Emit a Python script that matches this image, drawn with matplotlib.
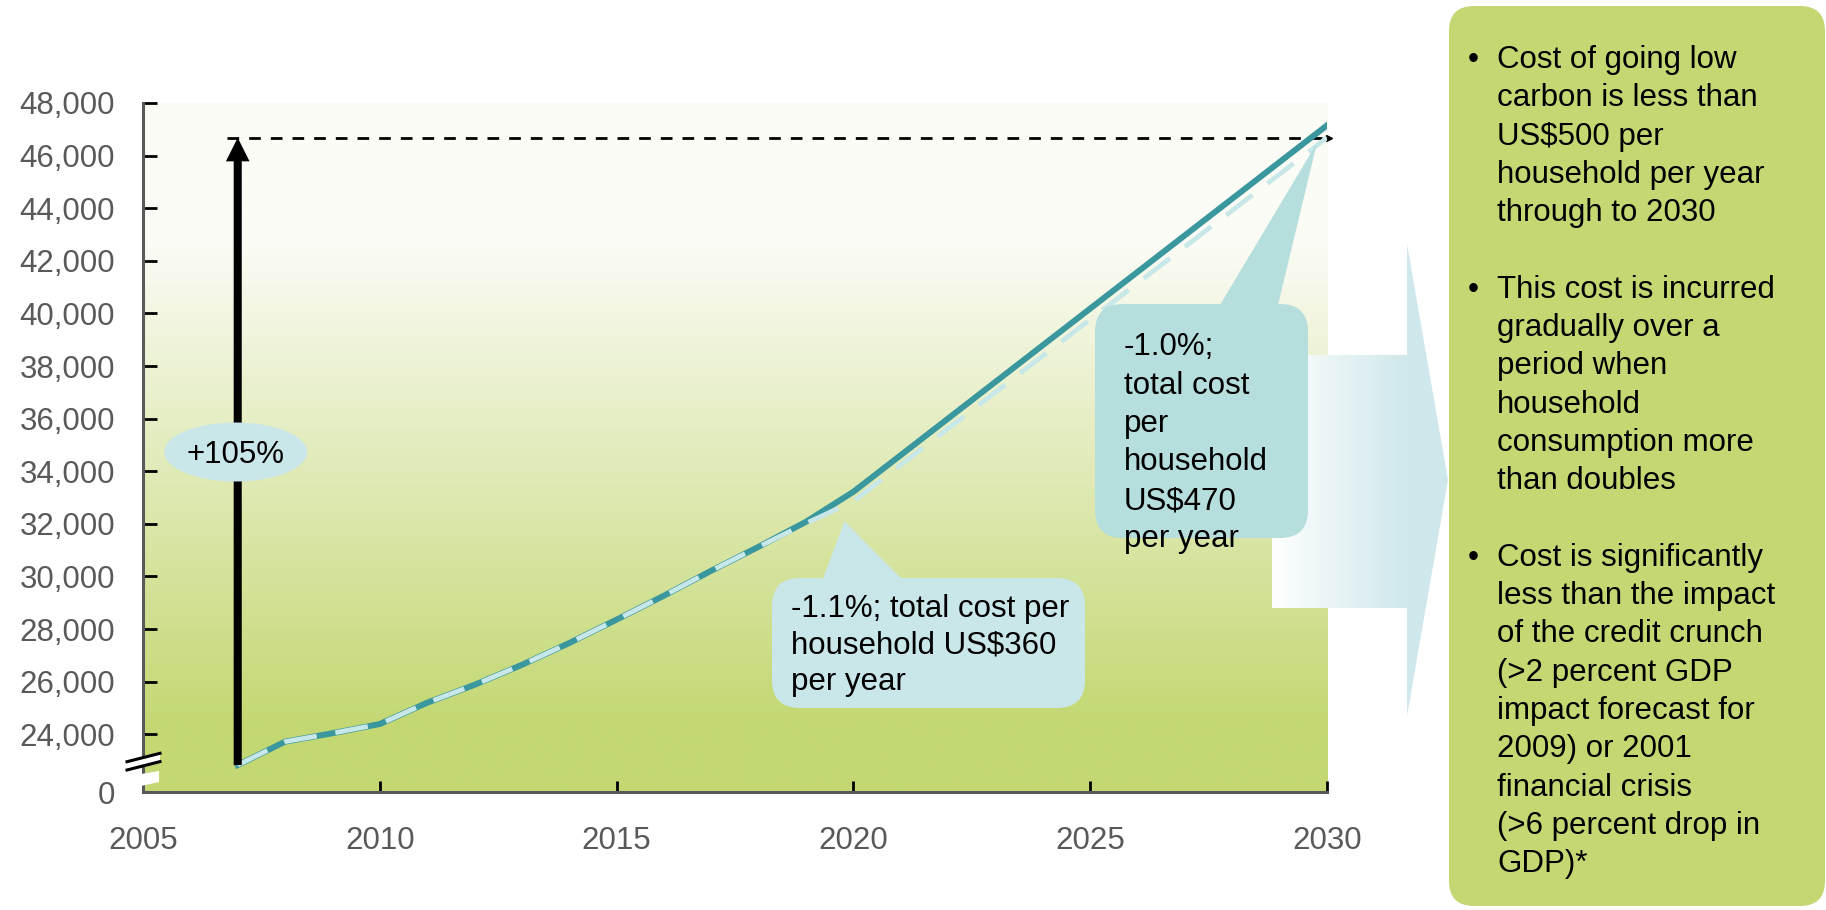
import numpy as np
import matplotlib.pyplot as plt
from matplotlib.colors import to_rgb
from matplotlib.patches import ArrowStyle, Ellipse, FancyBboxPatch, Polygon

plt.rcParams['font.family'] = ['Liberation Sans', 'DejaVu Sans']

# household consumption, US$ per household per year
years = [2007, 2008, 2009, 2010, 2011, 2012, 2013, 2014, 2015, 2016, 2017, 2018, 2019, 2020, 2030]
business_as_usual = [22830, 23720, 24040, 24390, 25200, 25880, 26640, 27470, 28360,
                     29270, 30220, 31130, 32080, 33220, 47150]
low_carbon = [22830, 23720, 24040, 24390, 25200, 25880, 26640, 27470, 28360,
              29270, 30220, 31130, 32020, 32860, 46680]

x_ticks = [2005, 2010, 2015, 2020, 2025, 2030]
y_ticks = [24000, 26000, 28000, 30000, 32000, 34000, 36000, 38000, 40000,
           42000, 44000, 46000, 48000]
y_floor = 21806  # bottom of the broken axis, shown as 0

growth_label = '+105%'
note_2020 = ['-1.1%; total cost per', 'household US$360', 'per year']
note_2030 = ['-1.0%;', 'total cost', 'per', 'household', 'US$470', 'per year']
bullets = [
    ['Cost of going low', 'carbon is less than', 'US$500 per',
     'household per year', 'through to 2030'],
    ['This cost is incurred', 'gradually over a', 'period when',
     'household', 'consumption more', 'than doubles'],
    ['Cost is significantly', 'less than the impact', 'of the credit crunch',
     '(>2 percent GDP', 'impact forecast for', '2009) or 2001',
     'financial crisis', '(>6 percent drop in', 'GDP)*'],
]

TEAL = '#3a979d'
PALE = '#c8e7e9'
GREEN = '#c3d873'
GREY = '#595959'
FS = 22.5

W, H = 1826, 910
fig = plt.figure(figsize=(W / 100, H / 100), dpi=100)
fig.patch.set_facecolor('white')
ax = fig.add_axes([143 / W, 1 - 792 / H, 1184 / W, 689 / H], zorder=1)

# vertical wash from near-white to green behind the plot
s = np.linspace(0, 1, 400)[:, None]
t = np.clip((s - 0.2) / 0.7, 0, 1)
bg = (1 - t) * np.array(to_rgb('#fbfcf6')) + t * np.array(to_rgb(GREEN))
ax.imshow(bg[:, None, :], extent=(0, 1, 0, 1), transform=ax.transAxes,
          aspect='auto', zorder=0)

ax.plot(years, business_as_usual, color=TEAL, lw=4.3, zorder=3)
ax.plot(years, low_carbon, color=PALE, lw=3.4, dashes=(7, 4), zorder=4)

# growth arrow and 2030 level
peak = low_carbon[-1]
ax.plot([years[0] - 0.23, years[-1]], [peak, peak], color='black', lw=2,
        dashes=(4.2, 3.6), zorder=2, clip_on=False)
ax.plot(years[-1] + 0.05, peak, marker='>', ms=5, color='black',
        clip_on=False, zorder=2)
ax.annotate('', xy=(years[0], peak), xytext=(years[0], low_carbon[0]),
            arrowprops=dict(arrowstyle=ArrowStyle.Simple(head_length=17, head_width=17, tail_width=5.8),
                            mutation_scale=1, fc='black', ec='none', shrinkA=0, shrinkB=0),
            zorder=5)

ax.set_xlim(x_ticks[0], x_ticks[-1])
ax.set_ylim(y_floor, y_ticks[-1])
ax.set_xticks(x_ticks)
ax.set_yticks([y_floor] + y_ticks)
ax.set_yticklabels(['0'] + [f'{v:,}' for v in y_ticks])
ax.tick_params(direction='in', width=2, color='black', labelsize=FS, labelcolor=GREY)
ax.tick_params(axis='x', length=8, pad=24.5)
ax.tick_params(axis='y', length=10, pad=20)
for side in ('top', 'right'):
    ax.spines[side].set_visible(False)
for side in ('left', 'bottom'):
    ax.spines[side].set_color(GREY)
    ax.spines[side].set_linewidth(2.2)

# overlay in pixel units for the annotations
ov = fig.add_axes([0, 0, 1, 1], zorder=2)
ov.set_autoscale_on(False)
ov.set_xlim(0, W)
ov.set_ylim(H, 0)
ov.axis('off')


def px(x, y):
    dx, dy = ax.transData.transform((x, y))
    return dx, H - dy


# axis break between 0 and the first tick
sx, sy = px(x_ticks[0], y_floor)
ov.add_patch(Polygon([(sx - 16, sy - 30), (sx + 17, sy - 38.5), (sx + 17, sy - 30), (sx - 16, sy - 22)],
                     fc='white', ec='none', zorder=1))
ov.add_patch(Polygon([(sx - 2, sy - 18), (sx + 16, sy - 21), (sx + 16, sy - 10), (sx - 2, sy - 6)],
                     fc='white', ec='none', zorder=1))
for off in (0, 8.3):
    ov.plot([sx - 16, sx + 17], [sy - 30.3 + off, sy - 38.7 + off], color='black', lw=2.2, zorder=2)

# big pointer towards the summary box
arrow_pts = [(1272, 355), (1407, 355), (1407, 244), (1448, 480), (1407, 716), (1407, 608), (1272, 608)]
shape = Polygon(arrow_pts, closed=True, fc='none', ec='none')
ov.add_patch(shape)
g = np.clip(np.linspace(0, 1, 300) * (1448 - 1272) / (1407 - 1272), 0, 1)[:, None]
fade = (1 - g) * np.array(to_rgb('#ffffff')) + g * np.array(to_rgb('#cfe8eb'))
img = ov.imshow(fade[None, :, :], extent=(1272, 1448, 716, 244), aspect='auto', zorder=1)
img.set_clip_path(shape)


def callout(box, base, tip, color, lines, tx, baseline, step):
    x0, y0, x1, y1 = box
    ov.add_patch(FancyBboxPatch((x0, y0), x1 - x0, y1 - y0,
                                boxstyle='round,pad=0,rounding_size=28',
                                fc=color, ec='none', zorder=3))
    ov.add_patch(Polygon([(base[0], y0 + 1), (base[1], y0 + 1), tip],
                         fc=color, ec='none', zorder=3))
    for i, line in enumerate(lines):
        ov.text(tx, baseline + i * step, line, fontsize=FS, va='baseline', zorder=4)


tx, ty = px(years[13], low_carbon[13])
callout((772, 578, 1085, 708), (823, 902), (tx - 9, ty + 20), '#c9e6e8',
        note_2020, 791, 617, 36.5)
tx, ty = px(years[-1], low_carbon[-1])
callout((1095, 304, 1308, 538), (1220, 1278), (tx - 10, ty + 5), '#b6dedd',
        note_2030, 1124, 355, 38.5)

ex = px(years[0], low_carbon[0])[0] - 2
ov.add_patch(Ellipse((ex, 452), 143, 59, fc='#c9e6e8', ec='none', zorder=3))
ov.text(ex, 463, growth_label, fontsize=FS, ha='center', va='baseline', zorder=4)

# summary box
ov.add_patch(FancyBboxPatch((1449, 6), 376, 900, boxstyle='round,pad=0,rounding_size=25',
                            fc=GREEN, ec='none', zorder=3))
k = 0
for para in bullets:
    ov.text(1473, 68 + k * 38.3, '\u2022', fontsize=FS, ha='center', va='baseline', zorder=4)
    for line in para:
        ov.text(1497, 68 + k * 38.3, line, fontsize=FS, va='baseline', zorder=4)
        k += 1
    k += 1

fig.savefig('out.png', dpi=100)
